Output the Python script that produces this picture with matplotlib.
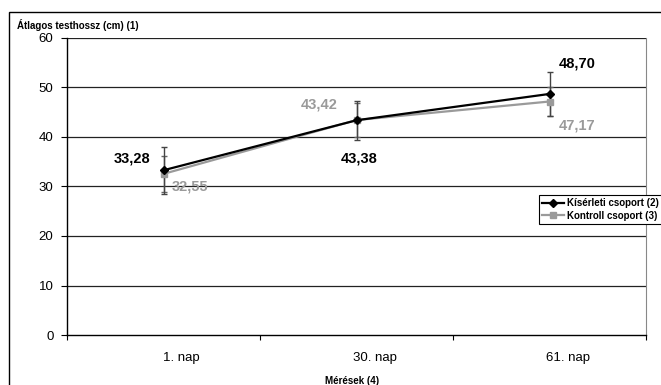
import matplotlib
matplotlib.use("Agg")
import matplotlib.pyplot as plt
import matplotlib.transforms as mtransforms
from matplotlib.patches import Rectangle

plt.rcParams['font.family'] = ['Liberation Sans', 'DejaVu Sans']

categories = ["1. nap", "30. nap", "61. nap"]
kiserleti = [33.28, 43.38, 48.70]
kontroll = [32.55, 43.42, 47.17]
kiserleti_err = [4.8, 3.9, 4.5]
kontroll_err = [3.6, 3.5, 3.0]
kiserleti_labels = ["33,28", "43,38", "48,70"]
kontroll_labels = ["32,55", "43,42", "47,17"]
series_names = ["Kísérleti csoport (2)", "Kontroll csoport (3)"]
y_ticks = [0, 10, 20, 30, 40, 50, 60]

W, H = 661, 385
fig = plt.figure(figsize=(W / 100, H / 100), dpi=100)
ax = fig.add_axes([67 / W, 1 - 335 / H, (646 - 67) / W, (335 - 38) / H])

# outer chart border
fig.patches.append(Rectangle((9 / W, -0.05), 1.2, 1 - 12 / H + 0.05, transform=fig.transFigure,
                             fill=False, edgecolor='black', linewidth=1.0, zorder=0))

x = list(range(1, len(categories) + 1))
ax.set_xlim(0.5, len(categories) + 0.5)
ax.set_ylim(0, 60)

for y in y_ticks[1:]:
    ax.axhline(y, color='#222222', linewidth=0.9, zorder=1)

gray = '#9a9a9a'
ax.errorbar(x, kontroll, yerr=kontroll_err, fmt='none', ecolor='#666666', elinewidth=1.0,
            capsize=2.5, capthick=1.0, zorder=2)
ax.errorbar(x, kiserleti, yerr=kiserleti_err, fmt='none', ecolor='#444444', elinewidth=1.0,
            capsize=2.5, capthick=1.0, zorder=2)
l2, = ax.plot(x, kontroll, color=gray, linewidth=1.6, marker='s', markersize=4.5,
              markeredgecolor=gray, markerfacecolor=gray, zorder=3, label=series_names[1])
l1, = ax.plot(x, kiserleti, color='black', linewidth=1.6, marker='D', markersize=4.5,
              zorder=4, label=series_names[0])

k_off = [(-31, 12), (3, -38), (28, 30)]
c_off = [(27, -13), (-37, 16), (28, -24)]
for xi, yi, lab, (dx, dy) in zip(x, kiserleti, kiserleti_labels, k_off):
    ax.annotate(lab, (xi, yi), xytext=(dx * 0.72, dy * 0.72), textcoords='offset points',
                ha='center', va='center', fontsize=10.5, fontweight='bold', color='black',
                zorder=5)
for xi, yi, lab, (dx, dy) in zip(x, kontroll, kontroll_labels, c_off):
    ax.annotate(lab, (xi, yi), xytext=(dx * 0.72, dy * 0.72), textcoords='offset points',
                ha='center', va='center', fontsize=10.5, fontweight='bold', color=gray,
                zorder=5)

# axes styling
ax.spines['top'].set_visible(False)
ax.spines['right'].set_color('#888888')
ax.spines['left'].set_color('black')
ax.spines['bottom'].set_color('black')
ax.spines['left'].set_linewidth(1.0)
ax.spines['bottom'].set_linewidth(1.0)

ax.set_yticks(y_ticks)
ax.set_yticklabels([str(v) for v in y_ticks], fontsize=9.5)
ax.tick_params(axis='y', direction='out', length=4.3, width=0.8, pad=5.5)

ax.set_xticks([i + 0.5 for i in range(len(categories) + 1)])
ax.set_xticklabels([])
ax.set_xticks(x, minor=True)
ax.set_xticklabels(categories, minor=True, fontsize=9.5)
ax.tick_params(axis='x', which='major', direction='out', length=3.5, width=0.8)
ax.tick_params(axis='x', which='minor', length=0, pad=12)
offset = mtransforms.ScaledTranslation(18 / 100, 0, fig.dpi_scale_trans)
for lbl in ax.get_xticklabels(minor=True):
    lbl.set_transform(lbl.get_transform() + offset)

fig.text(17 / W, 1 - 25 / H, "Átlagos testhossz (cm) (1)", fontsize=7, fontweight='bold',
         ha='left', va='center')
fig.text(352 / W, 1 - 381 / H, "Mérések (4)", fontsize=7, fontweight='bold',
         ha='center', va='center')

leg = fig.legend(handles=[l1, l2], loc='upper left', bbox_to_anchor=(539 / W, 1 - 195 / H),
                 prop={'size': 7, 'weight': 'bold'}, frameon=True, fancybox=False,
                 edgecolor='black', framealpha=1, borderpad=0.3, labelspacing=0.3,
                 handlelength=2.3, handletextpad=0.3, borderaxespad=0)
leg.get_frame().set_linewidth(0.8)

fig.savefig("out.png", dpi=100)
